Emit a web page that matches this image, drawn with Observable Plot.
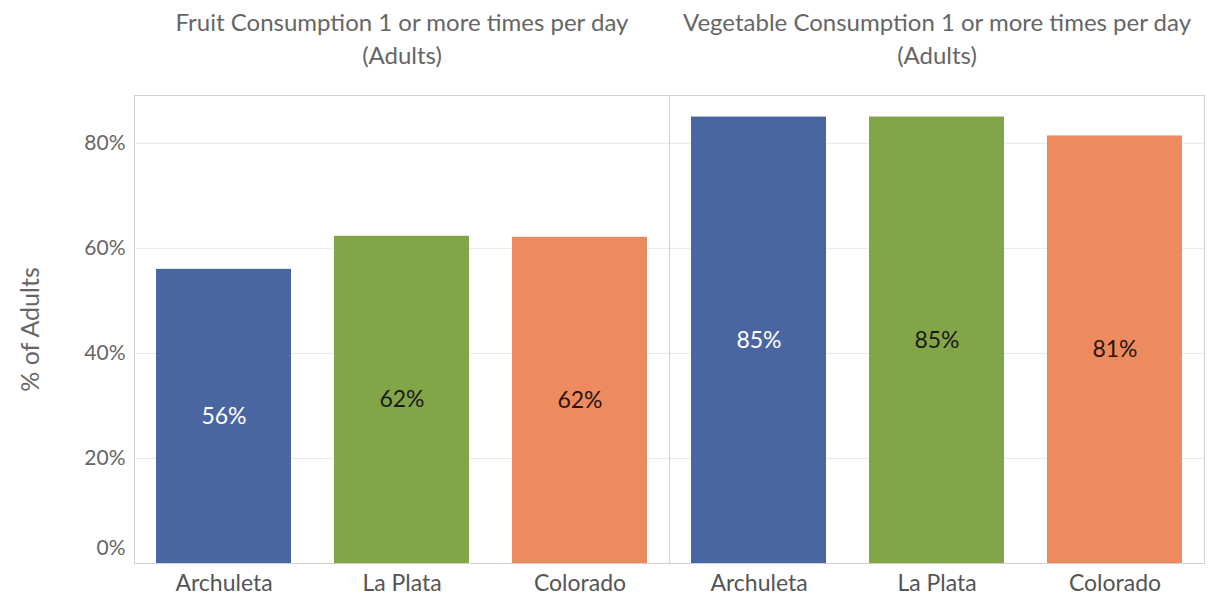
<!DOCTYPE html>
<html>
<head>
<meta charset="utf-8">
<script src="https://cdn.jsdelivr.net/npm/d3@7"></script>
<script src="https://cdn.jsdelivr.net/npm/@observablehq/plot@0.6"></script>
<style>
  html, body { margin: 0; padding: 0; background: #fff; }
  #chart svg { display: block; }
</style>
</head>
<body>
<div id="chart"></div>
<script>
const measures = ["Fruit", "Vegetable"];
const measureTitles = [
  "Fruit Consumption 1 or more times per day\n(Adults)",
  "Vegetable Consumption 1 or more times per day\n(Adults)"
];
const regions = ["Archuleta", "La Plata", "Colorado"];
const fruitValues = [56.0, 62.3, 62.1];
const vegetableValues = [85.0, 85.0, 81.4];
const regionColors = ["#4a66a0", "#82a548", "#ee8b5e"];
const labelColors = ["#ffffff", "#1a1a1a", "#2a1410"];
const yTicks = [0, 20, 40, 60, 80];
const yAxisTitle = "% of Adults";

const data = [];
regions.forEach((r, i) => data.push({measure: measures[0], region: r, value: fruitValues[i]}));
regions.forEach((r, i) => data.push({measure: measures[1], region: r, value: vegetableValues[i]}));

const titleOf = new Map(measures.map((m, i) => [m, measureTitles[i]]));
const labelColorOf = new Map(regions.map((r, i) => [r, labelColors[i]]));

const font = "Lato, 'Open Sans', sans-serif";

const chart = Plot.plot({
  width: 1212,
  height: 598,
  marginTop: 95,
  marginBottom: 35,
  marginLeft: 134,
  marginRight: 8,
  style: {fontFamily: font, background: "#fff"},
  fx: {domain: measures, padding: 0, label: null},
  x: {domain: regions, paddingInner: 0.24, paddingOuter: 0.12, label: null},
  y: {domain: [0, 89.1], label: null},
  color: {domain: regions, range: regionColors},
  marks: [
    Plot.gridY(yTicks, {stroke: "#e8e8e8", strokeOpacity: 1}),
    Plot.frame({stroke: "#d0d0d0"}),
    Plot.barY(data, {fx: "measure", x: "region", y: "value", fill: "region"}),
    Plot.text(data, {
      fx: "measure", x: "region", y: d => d.value / 2,
      text: d => Math.round(d.value) + "%",
      fill: d => labelColorOf.get(d.region),
      fontSize: 23
    }),
    Plot.axisY(yTicks.slice(1), {
      tickSize: 0, tickPadding: 9, fontSize: 21, fill: "#666",
      tickFormat: d => d + "%", label: null
    }),
    Plot.axisY(yTicks.slice(0, 1), {
      tickSize: 0, tickPadding: 9, fontSize: 21, fill: "#666", dy: -15,
      tickFormat: d => d + "%", label: null
    }),
    Plot.axisX({
      tickSize: 0, tickPadding: 11, fontSize: 23, fill: "#555", label: null
    }),
    Plot.axisFx({
      anchor: "top", tickSize: 0, tickPadding: 32, fontSize: 24, fill: "#666",
      lineHeight: 1.35, tickFormat: d => titleOf.get(d), label: null
    }),
    Plot.text([{measure: measures[0], t: yAxisTitle}], {
      fx: "measure", text: "t",
      frameAnchor: "left", textAnchor: "middle", dx: -104, rotate: -90,
      fontSize: 25, fill: "#666"
    })
  ]
});
document.getElementById("chart").appendChild(chart);
</script>
</body>
</html>
